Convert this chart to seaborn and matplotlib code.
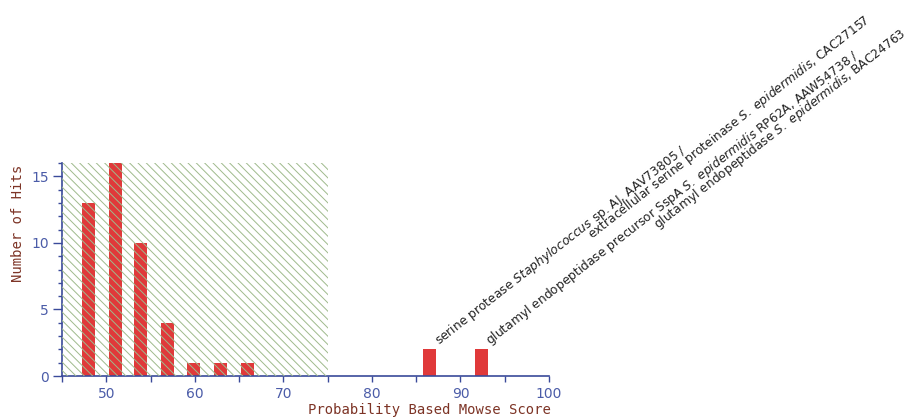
import numpy as np
import pandas as pd
import matplotlib
matplotlib.use("Agg")
import matplotlib.pyplot as plt
import seaborn as sns
from matplotlib.ticker import MultipleLocator

# ---- data ----
scores = [48.0, 51.0, 53.9, 56.9, 59.8, 62.9, 65.9, 86.5, 92.4]
hits = [13, 16, 10, 4, 1, 1, 1, 2, 2]
x_ticks = [50, 60, 70, 80, 90, 100]
y_ticks = [0, 5, 10, 15]
threshold_range = [45, 75]
label_scores = [86.5, 92.4]
label_hits = [2, 2]
label_line1 = [
    r"serine protease $\mathit{Staphylococcus}$ sp. AJ, AAV73805 /",
    r"glutamyl endopeptidase precursor SspA $\mathit{S.}$ $\mathit{epidermidis}$ RP62A, AAW54738 /",
]
label_line2 = [
    r"extracellular serine proteinase $\mathit{S.}$ $\mathit{epidermidis}$, CAC27157",
    r"glutamyl endopeptidase $\mathit{S.}$ $\mathit{epidermidis}$, BAC24763",
]

sns.set_theme(style="white")
plt.rcParams["font.family"] = ["DejaVu Sans"]
plt.rcParams["mathtext.fontset"] = "custom"
plt.rcParams["mathtext.rm"] = "DejaVu Sans"
plt.rcParams["mathtext.it"] = "DejaVu Sans:italic"
plt.rcParams["hatch.linewidth"] = 0.7

axis_col = "#3a4a9a"
tick_col = "#4b5ca8"
label_col = "#7d3426"
bar_col = "#e0393a"
hatch_col = "#9fba8c"

fig = plt.figure(figsize=(9.18, 4.2), dpi=100)
ax = fig.add_axes([62 / 918, 44 / 420, 487 / 918, 213 / 420])

df = pd.DataFrame({"score": scores, "hits": hits})
native = np.min(np.diff(np.unique(scores)))
sns.barplot(data=df, x="score", y="hits", native_scale=True, width=1.46 / native,
            color=bar_col, saturation=1, errorbar=None, linewidth=0, ax=ax, zorder=2)

ax.axvspan(threshold_range[0], threshold_range[1], facecolor="none", edgecolor=hatch_col,
           hatch="\\\\\\\\", linewidth=0, zorder=3)

ax.set_xlim(45, 100)
ax.set_ylim(0, 16)
ax.set_xticks(x_ticks)
ax.set_yticks(y_ticks)
ax.xaxis.set_minor_locator(MultipleLocator(5))
ax.yaxis.set_minor_locator(MultipleLocator(1))
ax.tick_params(axis="both", which="both", direction="out", color=axis_col, width=1,
               labelcolor=tick_col, labelsize=10)
ax.tick_params(axis="x", which="both", length=4, pad=4)
ax.tick_params(axis="y", which="major", length=6.5, pad=3)
ax.tick_params(axis="y", which="minor", length=3)
ax.xaxis.set_ticks_position("bottom")
ax.yaxis.set_ticks_position("left")
for s in ["top", "right"]:
    ax.spines[s].set_visible(False)
for s in ["left", "bottom"]:
    ax.spines[s].set_color(axis_col)
    ax.spines[s].set_linewidth(1.2)
ax.set_xlabel("")
ax.set_ylabel("")
ax.grid(False)

fig.text(551 / 918, 1 - 410 / 420, "Probability Based Mowse Score", family="DejaVu Sans Mono",
         fontsize=10, color=label_col, ha="right", va="center")
fig.text(18 / 918, 1 - 165 / 420, "Number of Hits", family="DejaVu Sans Mono",
         fontsize=10, color=label_col, ha="center", va="top", rotation=90)

offs1 = [(9, 4), (8.5, 4)]
offs2 = [(162, 110), (176.5, 120)]
for i in range(len(label_scores)):
    ax.annotate(label_line1[i], xy=(label_scores[i], label_hits[i]), xytext=offs1[i],
                textcoords="offset pixels", rotation=38, rotation_mode="anchor",
                ha="left", va="baseline", fontsize=8.8, color="#222222", annotation_clip=False)
    ax.annotate(label_line2[i], xy=(label_scores[i], label_hits[i]), xytext=offs2[i],
                textcoords="offset pixels", rotation=38, rotation_mode="anchor",
                ha="left", va="baseline", fontsize=8.8, color="#222222", annotation_clip=False)

fig.savefig("out.png", dpi=100)
